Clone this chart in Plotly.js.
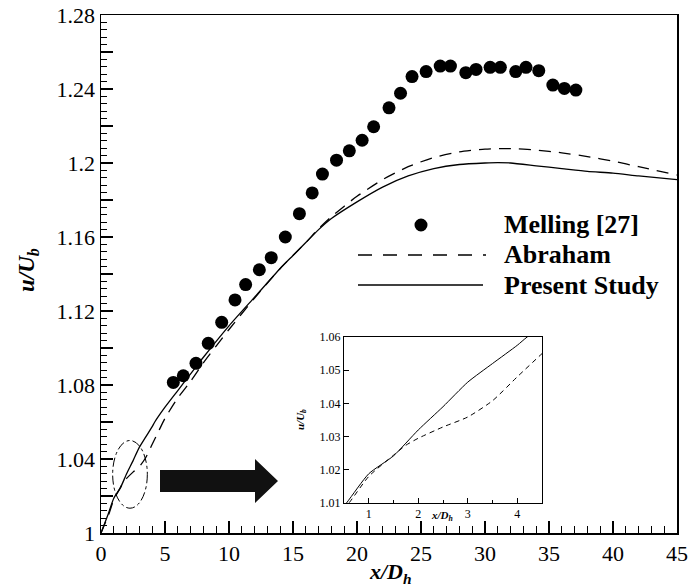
<!DOCTYPE html>
<html>
<head>
<meta charset="utf-8">
<script src="https://cdn.plot.ly/plotly-3.0.1.min.js"></script>
<style>html,body{margin:0;padding:0;background:#fff;}#chart{width:692px;height:587px;}#dbg{position:absolute;left:2px;top:572px;font:9px monospace;color:#c00;}</style>
</head>
<body>
<div id="chart"></div>
<div id="dbg"></div>
<script>
// Melling [27] experimental data
const mellingX = [5.65, 6.43, 7.42, 8.38, 9.43, 10.47, 11.3, 12.37, 13.3, 14.4, 15.5, 16.5, 17.3, 18.4, 19.4, 20.4, 21.3, 22.5, 23.4, 24.3, 25.4, 26.5, 27.3, 28.5, 29.3, 30.4, 31.2, 32.4, 33.2, 34.2, 35.3, 36.2, 37.1];
const mellingY = [1.0814, 1.085, 1.0917, 1.1025, 1.1139, 1.126, 1.1343, 1.1423, 1.1488, 1.160, 1.1726, 1.1838, 1.194, 1.2015, 1.2066, 1.2123, 1.2196, 1.2298, 1.2377, 1.2467, 1.2494, 1.2524, 1.2524, 1.2488, 1.2506, 1.2517, 1.2517, 1.2494, 1.2517, 1.2499, 1.2421, 1.2403, 1.2394];

// Abraham (dashed)
const abrahamX = [0, 0.6, 1, 1.5, 1.75, 2, 2.5, 3, 3.5, 4, 4.5, 5, 6, 7, 8, 10, 12, 14, 16, 17, 18, 20, 22, 24, 26, 28, 30, 32, 34, 36, 38, 40, 42, 45];
const abrahamY = [1.0, 1.01, 1.018, 1.0244, 1.0274, 1.0295, 1.0329, 1.0359, 1.0408, 1.048, 1.055, 1.062, 1.073, 1.082, 1.092, 1.110, 1.127, 1.143, 1.157, 1.1645, 1.171, 1.182, 1.191, 1.198, 1.203, 1.206, 1.2075, 1.2078, 1.207, 1.2055, 1.2035, 1.201, 1.198, 1.1935];

// Present Study (solid)
const presentX = [0, 0.55, 1, 1.5, 2, 2.5, 3, 3.5, 4, 4.2, 5, 6, 7, 8, 10, 12, 14, 15, 16, 17, 18, 20, 22, 24, 26, 28, 30, 31, 32, 34, 36, 38, 40, 42, 45];
const presentY = [1.0, 1.01, 1.0188, 1.0242, 1.032, 1.039, 1.0464, 1.052, 1.0575, 1.06, 1.068, 1.077, 1.086, 1.095, 1.112, 1.1275, 1.143, 1.150, 1.157, 1.164, 1.170, 1.179, 1.187, 1.193, 1.197, 1.1992, 1.2, 1.2002, 1.2, 1.1985, 1.197, 1.1955, 1.1945, 1.193, 1.191];

// Tick labels
const yTickVals = [1, 1.02, 1.04, 1.06, 1.08, 1.10, 1.12, 1.14, 1.16, 1.18, 1.2, 1.22, 1.24, 1.26, 1.28];
const yTickText = ['1', ' ', '1.04', ' ', '1.08', ' ', '1.12', ' ', '1.16', ' ', '1.2', ' ', '1.24', ' ', '1.28'];
const insetYTickVals = [1.01, 1.02, 1.03, 1.04, 1.05, 1.06];
const insetYTickText = ['1.01', '1.02', '1.03', '1.04', '1.05', '1.06'];
const legendNames = ['Melling [27]', 'Abraham', 'Present Study'];

const FONT = '"Liberation Serif", serif';
const L = 101, T = 15, W = 576, H = 518;
const px = v => (v - L) / W;
const py = v => (T + H - v) / H;

function build() {
  const traces = [
    {x: presentX, y: presentY, type: 'scatter', mode: 'lines', line: {color: '#000', width: 1.3, shape: 'spline', smoothing: 0.6}, xaxis: 'x', yaxis: 'y'},
    {x: abrahamX, y: abrahamY, type: 'scatter', mode: 'lines', line: {color: '#000', width: 1.3, dash: '12px,8px', shape: 'spline', smoothing: 0.6}, xaxis: 'x', yaxis: 'y'},
    {x: mellingX, y: mellingY, type: 'scatter', mode: 'markers', marker: {color: '#000', size: 13}, xaxis: 'x', yaxis: 'y'},
    {x: presentX, y: presentY, type: 'scatter', mode: 'lines', line: {color: '#000', width: 1, shape: 'spline', smoothing: 0.6}, xaxis: 'x2', yaxis: 'y2'},
    {x: abrahamX, y: abrahamY, type: 'scatter', mode: 'lines', line: {color: '#000', width: 1, dash: '5px,4px', shape: 'spline', smoothing: 0.6}, xaxis: 'x2', yaxis: 'y2'}
  ];
  const legendRows = [225, 255, 285];
  const shapes = [
    {type: 'circle', xref: 'x', yref: 'y', x0: 0.91, x1: 3.62, y0: 1.0134, y1: 1.05, line: {color: '#000', width: 1, dash: 'dashdot'}},
    {type: 'path', xref: 'paper', yref: 'paper',
     path: `M ${px(160)},${py(470)} L ${px(255)},${py(470)} L ${px(255)},${py(459)} L ${px(278)},${py(481)} L ${px(255)},${py(503)} L ${px(255)},${py(492)} L ${px(160)},${py(492)} Z`,
     fillcolor: '#111', line: {width: 0}},
    {type: 'circle', xref: 'paper', yref: 'paper', x0: px(414.5), x1: px(427.5), y0: py(legendRows[0] + 6.5), y1: py(legendRows[0] - 6.5), fillcolor: '#000', line: {width: 0}},
    {type: 'line', xref: 'paper', yref: 'paper', x0: px(358), x1: px(486), y0: py(legendRows[1]), y1: py(legendRows[1]), line: {color: '#000', width: 1.3, dash: '14px,11px'}},
    {type: 'line', xref: 'paper', yref: 'paper', x0: px(358), x1: px(483), y0: py(legendRows[2]), y1: py(legendRows[2]), line: {color: '#000', width: 1.5}}
  ];
  const annotations = [
    {xref: 'paper', yref: 'paper', x: px(390), y: py(573), text: '<b><i>x/D<sub>h</sub></i></b>', showarrow: false, font: {family: FONT, size: 22}, xanchor: 'center', yanchor: 'middle'},
    {xref: 'paper', yref: 'paper', x: px(28), y: py(270), text: '<b><i>u/U<sub>b</sub></i></b>', showarrow: false, textangle: -90, font: {family: FONT, size: 23}, xanchor: 'center', yanchor: 'middle'},
    {xref: 'paper', yref: 'paper', x: px(442), y: py(516), text: '<b><i>x/D<sub>h</sub></i></b>', showarrow: false, font: {family: FONT, size: 11}, xanchor: 'center', yanchor: 'middle'},
    {xref: 'paper', yref: 'paper', x: px(301), y: py(420), text: '<b><i>u/U<sub>b</sub></i></b>', showarrow: false, textangle: -90, font: {family: FONT, size: 11}, xanchor: 'center', yanchor: 'middle'}
  ];
  legendNames.forEach((n, i) => {
    annotations.push({xref: 'paper', yref: 'paper', x: px(502), y: py(legendRows[i]), text: '<b>' + n + '</b>', showarrow: false, font: {family: FONT, size: 26}, xanchor: 'left', yanchor: 'middle'});
  });
  const layout = {
    width: 692, height: 587, margin: {l: L, r: 15, t: T, b: 54}, plot_bgcolor: '#fff', showlegend: false,
    font: {family: FONT, color: '#000'},
    xaxis: {domain: [0, 1], range: [0, 45], anchor: 'y', tickmode: 'linear', tick0: 0, dtick: 5,
      ticks: 'inside', ticklen: 12, tickwidth: 1.2, tickcolor: '#000',
      minor: {dtick: 1, ticks: 'inside', ticklen: 7, tickwidth: 1, tickcolor: '#000', showgrid: false},
      showline: true, linewidth: 1.5, linecolor: '#000', mirror: true, showgrid: false, zeroline: false, tickfont: {family: FONT, size: 22}},
    yaxis: {domain: [0, 1], range: [1, 1.28], anchor: 'x', tickmode: 'array', tickvals: yTickVals, ticktext: yTickText,
      ticks: 'inside', ticklen: 12, tickwidth: 1.2, tickcolor: '#000',
      minor: {tickmode: 'linear', tick0: 1, dtick: 0.004, ticks: 'inside', ticklen: 6, tickwidth: 1, tickcolor: '#000', showgrid: false},
      showline: true, linewidth: 1.5, linecolor: '#000', mirror: true, showgrid: false, zeroline: false, tickfont: {family: FONT, size: 22}},
    xaxis2: {domain: [px(344), px(542)], range: [0.5, 4.5], anchor: 'y2', tickmode: 'linear', tick0: 0, dtick: 1,
      ticks: 'inside', ticklen: 5, tickwidth: 1, tickcolor: '#000',
      minor: {dtick: 0.5, ticks: 'inside', ticklen: 3, tickwidth: 1, tickcolor: '#000', showgrid: false},
      showline: true, linewidth: 1, linecolor: '#000', mirror: true, showgrid: false, zeroline: false, tickfont: {family: FONT, size: 12, color: '#000'}},
    yaxis2: {domain: [py(503), py(337)], range: [1.01, 1.06], anchor: 'x2', tickmode: 'array', tickvals: insetYTickVals, ticktext: insetYTickText,
      ticks: 'inside', ticklen: 5, tickwidth: 1, tickcolor: '#000', showline: true, linewidth: 1, linecolor: '#000', mirror: true, showgrid: false, zeroline: false, tickfont: {family: FONT, size: 12, color: '#000'}},
    shapes: shapes,
    annotations: annotations
  };
  return [traces, layout];
}

(async () => {
  const [t, l] = build();
  const gd = document.getElementById('chart');
  await Plotly.newPlot(gd, t, l, {staticPlot: true});
  const ticks = gd.querySelectorAll('path.xtick, path.ytick, path.x2tick, path.y2tick');
  let painted = 0;
  ticks.forEach(p => {
    const cs = getComputedStyle(p);
    const r = p.getBoundingClientRect();
    if (cs.display !== 'none' && cs.visibility !== 'hidden' && (r.width > 0 || r.height > 0)) painted++;
  });
  if (painted === 0) {
    document.getElementById('dbg').textContent = 'ticks ' + ticks.length + ' painted 0';
  }
})();
</script>
</body>
</html>
